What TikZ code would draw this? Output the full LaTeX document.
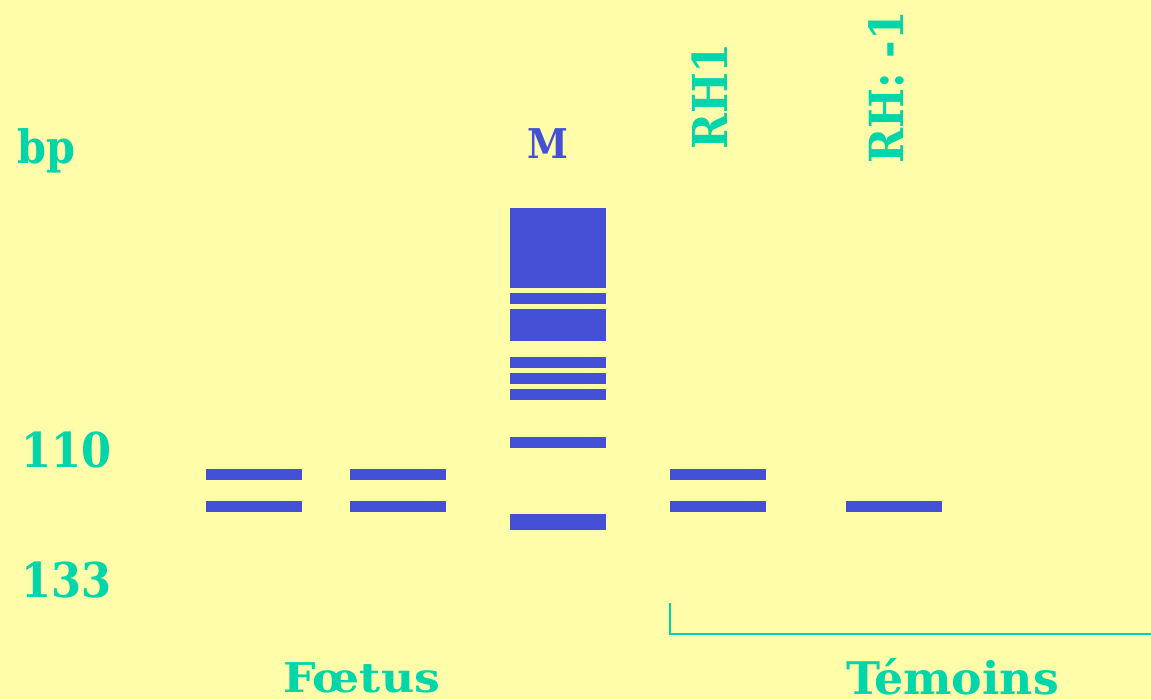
\documentclass[tikz,border=0pt]{standalone}
\usepackage{fontspec}
\setmainfont{DejaVu Serif Condensed}
\definecolor{bg}{RGB}{255,252,170}
\definecolor{bandblue}{RGB}{68,80,214}
\definecolor{lbl}{RGB}{0,214,170}
\tikzset{
  band/.style={fill=bandblue},
  lab/.style={text=lbl,font=\bfseries,inner sep=0pt,anchor=base west},
  bracket/.style={draw=lbl,line width=2pt}
}
\begin{document}
\begin{tikzpicture}[x=1pt,y=-1pt]
\fill[bg] (0,0) rectangle (1151,699);
\useasboundingbox (0,0) rectangle (1151,699);
% labels
\node[lab,font=\bfseries\fontsize{46}{46}\selectfont] (bp) at (17,163) {bp};
\node[lab,font=\bfseries\fontsize{48}{48}\selectfont] (l110) at (21,467) {110};
\node[lab,font=\bfseries\fontsize{48}{48}\selectfont] (l133) at (21,597) {133};
\node[lab,text=bandblue,anchor=base,font=\bfseries\fontsize{41}{41}\selectfont] (M) at (548,158) {M};
\node[lab,rotate=90,font=\bfseries\fontsize{48}{48}\selectfont] (rh1) at (727,150) {RH1};
\node[lab,rotate=90,font=\bfseries\fontsize{47}{47}\selectfont] (rhm) at (903,164) {RH: -1};
\node[lab,font=\bfseries\fontsize{41}{41}\selectfont] (foetus) at (283,692) {\scalebox{1.24}[1]{Fœtus}};
\node[lab,font=\bfseries\fontsize{45}{45}\selectfont] (temoins) at (846,694) {\scalebox{1.13}[1]{Témoins}};
% marker lane
\fill[band] (510,208) rectangle (606,288);
\fill[band] (510,293) rectangle (606,304);
\fill[band] (510,309) rectangle (606,341);
\fill[band] (510,357) rectangle (606,368);
\fill[band] (510,373) rectangle (606,384);
\fill[band] (510,389) rectangle (606,400);
\fill[band] (510,437) rectangle (606,448);
\fill[band] (510,514) rectangle (606,530);
% foetus lanes
\fill[band] (206,469) rectangle (302,480);
\fill[band] (206,501) rectangle (302,512);
\fill[band] (350,469) rectangle (446,480);
\fill[band] (350,501) rectangle (446,512);
% controls
\fill[band] (670,469) rectangle (766,480);
\fill[band] (670,501) rectangle (766,512);
\fill[band] (846,501) rectangle (942,512);
% bracket
\coordinate (b1) at (670,603);
\coordinate (b2) at (670,634);
\coordinate (b3) at (1151,634);
\draw[bracket] (b1) -- (b2) -- (b3);
\end{tikzpicture}
\end{document}
